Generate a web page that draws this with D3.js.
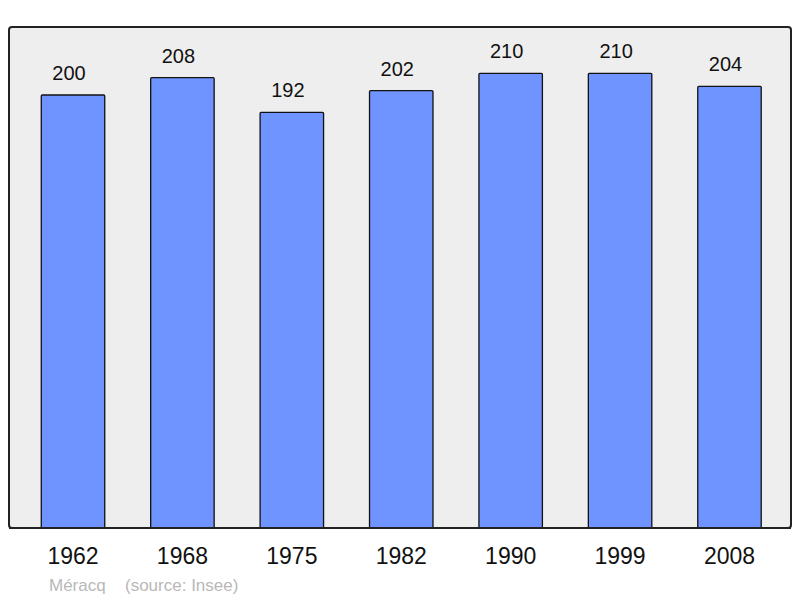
<!DOCTYPE html>
<html><head><meta charset="utf-8">
<script src="https://cdn.jsdelivr.net/npm/d3@7"></script>
<style>body{margin:0;background:#fff}svg{display:block}</style>
</head><body>
<svg id="c" width="800" height="598"></svg>
<script>
const years = ["1962","1968","1975","1982","1990","1999","2008"];
const population = [200,208,192,202,210,210,204];
const townName = "Méracq";
const sourceText = "(source: Insee)";

const svg = d3.select("#c");
const panel = {x:9, y:27, w:782, h:501};
svg.append("rect").attr("x",panel.x).attr("y",panel.y).attr("width",panel.w).attr("height",panel.h)
  .attr("rx",3).attr("fill","#eeeeee").attr("stroke","#222").attr("stroke-width",2);

const x = d3.scaleBand().domain(years).range([18.3,784.2]).paddingInner(0.42).paddingOuter(0.21);
const y = d3.scaleLinear().domain([0,231.4]).range([528,27]);

svg.selectAll("rect.bar").data(population).join("rect").attr("class","bar")
  .attr("x",(d,i)=>x(years[i])).attr("width",x.bandwidth())
  .attr("y",d=>y(d)).attr("height",d=>y(0)-y(d))
  .attr("fill","#7094ff").attr("stroke","#111").attr("stroke-width",1.3).attr("rx",1);

svg.selectAll("text.val").data(population).join("text").attr("class","val")
  .attr("x",(d,i)=>x(years[i])+x.bandwidth()/2-4).attr("y",d=>y(d)-15)
  .attr("text-anchor","middle").attr("font-family","Liberation Sans, Arial, sans-serif")
  .attr("font-size",20).attr("fill","#111").text(d=>d);

svg.append("line").attr("x1",panel.x).attr("x2",panel.x+panel.w).attr("y1",528).attr("y2",528)
  .attr("stroke","#222").attr("stroke-width",2);

const xAxis = svg.append("g").attr("transform","translate(0,528)")
  .call(d3.axisBottom(x).tickSize(0).tickPadding(0));
xAxis.select(".domain").remove();
xAxis.selectAll("text").attr("y",36).attr("dy",0).attr("font-family","Liberation Sans, Arial, sans-serif")
  .attr("font-size",23).attr("fill","#111");

svg.append("text").attr("x",49).attr("y",591).attr("font-family","Liberation Sans, Arial, sans-serif")
  .attr("font-size",17).attr("fill","#b8b8b8").text(townName);
svg.append("text").attr("x",125).attr("y",591).attr("font-family","Liberation Sans, Arial, sans-serif")
  .attr("font-size",17).attr("fill","#b8b8b8").text(sourceText);
</script>
</body></html>
